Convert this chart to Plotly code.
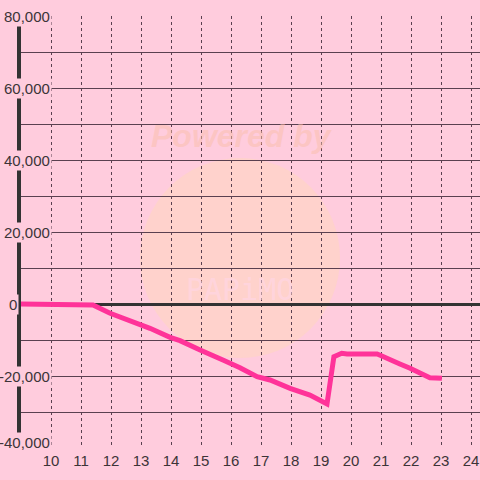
import plotly.graph_objects as go

# data (x = hour, y = value)
x_vals = [9.0, 11.03, 11.4, 11.97, 12.3, 12.97, 13.3, 13.97, 14.3, 14.97, 15.3, 15.73,
          16.3, 16.87, 17.3, 17.97, 18.63, 19.2, 19.43, 19.69, 19.87, 20.87, 21.03,
          21.4, 21.63, 21.97, 22.63, 23.03]
y_vals = [0, 0, -280, -2580, -3530, -5640, -6750, -9250, -10190, -12780, -13890, -15560,
          -17690, -20190, -21110, -23420, -25280, -27780, -14640, -13690, -13890, -13890, -14440,
          -16030, -16670, -17860, -20470, -20640]
x_ticks = list(range(10, 25))
y_label_vals = [80000, 60000, 40000, 20000, 0, -20000, -40000]
y_label_text = ["80,000", "60,000", "40,000", "20,000", "0", "-20,000", "-40,000"]

BG = "#FFCCDD"
GRID = "#5A4050"
TXT = "#3C3438"

fig = go.Figure()
fig.add_trace(go.Scatter(x=x_vals, y=y_vals, mode="lines",
                         line=dict(color="#FF3399", width=5), hoverinfo="skip"))

annotations = []
for v, t in zip(y_label_vals, y_label_text):
    shift = 6 if v == min(y_label_vals) else 0
    if t == "0":
        annotations.append(dict(xref="paper", yref="y", x=-0.030, y=v, text=t, showarrow=False,
                                xanchor="left", yanchor="middle", bgcolor=BG, borderpad=1,
                                font=dict(family="Liberation Sans, Arial", size=15, color=TXT)))
    else:
        annotations.append(dict(xref="paper", yref="y", x=0.0675, y=v, text=t, showarrow=False,
                                xanchor="right", yanchor="middle", bgcolor=BG, borderpad=1,
                                yshift=shift,
                                font=dict(family="Liberation Sans, Arial", size=15, color=TXT)))

# watermark
annotations.append(dict(xref="paper", yref="paper", x=0.4815, y=0.727, yshift=18,
                        text="<b><i>Powered by</i></b>",
                        showarrow=False, font=dict(family="Liberation Sans, Arial", size=32,
                                                   color="rgba(250,190,170,0.5)")))
annotations.append(dict(xref="paper", yref="paper", x=0.477, y=0.366, text="PAPiMO",
                        showarrow=False, font=dict(family="DejaVu Sans Mono", size=30,
                                                   color="rgba(255,215,235,0.55)")))

fig.update_layout(
    width=480, height=480,
    margin=dict(l=21, r=0, t=16, b=32, autoexpand=False),
    paper_bgcolor=BG, plot_bgcolor=BG,
    showlegend=False,
    annotations=annotations,
    shapes=[dict(type="circle", xref="paper", yref="paper", x0=0.2593, x1=0.695, y0=0.2083, y1=0.6713,
                 fillcolor="rgba(255,215,190,0.55)", line=dict(width=0), layer="below")],
    xaxis=dict(range=[9, 24.3], tickvals=x_ticks, ticktext=[str(t) for t in x_ticks],
               showgrid=True, gridcolor=GRID, gridwidth=1.2, griddash="dot",
               zeroline=False, showline=False, ticks="", ticklabelstandoff=2,
               automargin=False,
               tickfont=dict(family="Liberation Sans, Arial", size=15, color=TXT),
               fixedrange=True),
    yaxis=dict(range=[-40000, 80000], dtick=10000, tick0=0, showticklabels=False,
               showgrid=True, gridcolor=GRID, gridwidth=1.2, automargin=False,
               zeroline=True, zerolinecolor="#333333", zerolinewidth=3,
               showline=True, linecolor="#333333", linewidth=4, ticks="",
               fixedrange=True),
)

fig.write_html("out.html", config={"displayModeBar": False},
               post_script="document.body.style.margin='0';document.body.style.background='" + BG + "';")
